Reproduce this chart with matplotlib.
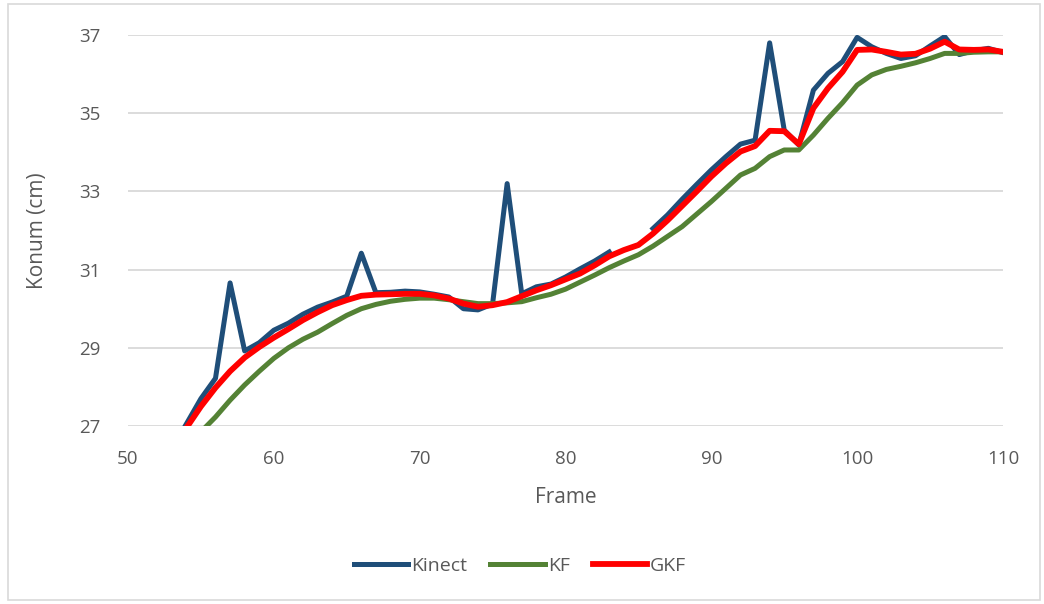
import matplotlib.pyplot as plt
import matplotlib.patches as patches
import numpy as np

frames = list(range(53, 111))

kinect = [26.4, 27.05, 27.7, 28.22, 30.66, 28.92, 29.13, 29.45, 29.63, 29.86,
          30.04, 30.17, 30.32, 31.42, 30.41, 30.42, 30.45, 30.43, 30.37, 30.3,
          30.0, 29.97, 30.12, 33.2, 30.38, 30.56, 30.63, 30.81, 31.02, 31.22,
          31.45, np.nan, np.nan, 32.05, 32.4, 32.8, 33.18, 33.55, 33.89, 34.21,
          34.31, 36.8, 34.57, 34.19, 35.59, 36.02, 36.32, 36.94, 36.7, 36.53,
          36.4, 36.47, 36.72, 36.96, 36.5, 36.6, 36.66, 36.55]

kf = [26.1, 26.45, 26.85, 27.23, 27.66, 28.05, 28.4, 28.73, 29.0, 29.22,
      29.4, 29.62, 29.83, 30.0, 30.11, 30.19, 30.24, 30.27, 30.27, 30.23,
      30.18, 30.13, 30.13, 30.15, 30.18, 30.28, 30.37, 30.5, 30.68, 30.86,
      31.05, 31.22, 31.38, 31.6, 31.85, 32.1, 32.42, 32.74, 33.08, 33.42,
      33.59, 33.89, 34.06, 34.06, 34.44, 34.87, 35.27, 35.72, 35.98, 36.12,
      36.2, 36.29, 36.4, 36.53, 36.53, 36.56, 36.57, 36.57]

gkf = [26.4, 26.95, 27.5, 27.98, 28.4, 28.75, 29.02, 29.26, 29.48, 29.71,
       29.91, 30.09, 30.22, 30.33, 30.36, 30.37, 30.38, 30.38, 30.34, 30.26,
       30.13, 30.05, 30.09, 30.17, 30.32, 30.47, 30.6, 30.75, 30.9, 31.11,
       31.34, 31.5, 31.63, 31.92, 32.26, 32.63, 33.0, 33.38, 33.72, 34.02,
       34.16, 34.55, 34.54, 34.21, 35.13, 35.64, 36.06, 36.62, 36.63, 36.57,
       36.5, 36.52, 36.65, 36.83, 36.63, 36.62, 36.63, 36.57]

xticks = [50, 60, 70, 80, 90, 100, 110]
yticks = [27, 29, 31, 33, 35, 37]

plt.rcParams['font.family'] = ['Open Sans', 'DejaVu Sans']

fig = plt.figure(figsize=(10.44, 6.04), dpi=100)
ax = fig.add_axes([0.1226, 0.2947, 0.8381, 0.6473])

# light frame around the chart
fig.patches.append(patches.Rectangle((0.008, 0.006), 0.988, 0.988, transform=fig.transFigure,
                                     fill=False, edgecolor='#D9D9D9', linewidth=1.2))

ax.plot(frames, kinect, color='#1F4E79', linewidth=3.6, label='Kinect', solid_joinstyle='round')
ax.plot(frames, kf, color='#548235', linewidth=3.6, label='KF', solid_joinstyle='round')
ax.plot(frames, gkf, color='#FF0000', linewidth=4.2, label='GKF', solid_joinstyle='round')

ax.set_xlim(50, 110)
ax.set_ylim(27, 37)
ax.set_xticks(xticks)
ax.set_yticks(yticks)
ax.grid(True, axis='y', color='#D9D9D9', linewidth=1.3)
ax.set_axisbelow(True)
for s in ax.spines.values():
    s.set_visible(False)
ax.tick_params(length=0, labelsize=13.5, labelcolor='#595959')
ax.tick_params(axis='x', pad=17)
ax.tick_params(axis='y', pad=20)
ax.set_xlabel('Frame', fontsize=15, color='#595959', labelpad=14)
ax.set_ylabel('Konum (cm)', fontsize=15, color='#595959', labelpad=22)

ax.legend(loc='center', bbox_to_anchor=(0.448, -0.358), ncol=3, frameon=False,
          fontsize=14, labelcolor='#595959', handlelength=2.8, handletextpad=0.15,
          columnspacing=1.2)

fig.savefig('out.png', dpi=100)
